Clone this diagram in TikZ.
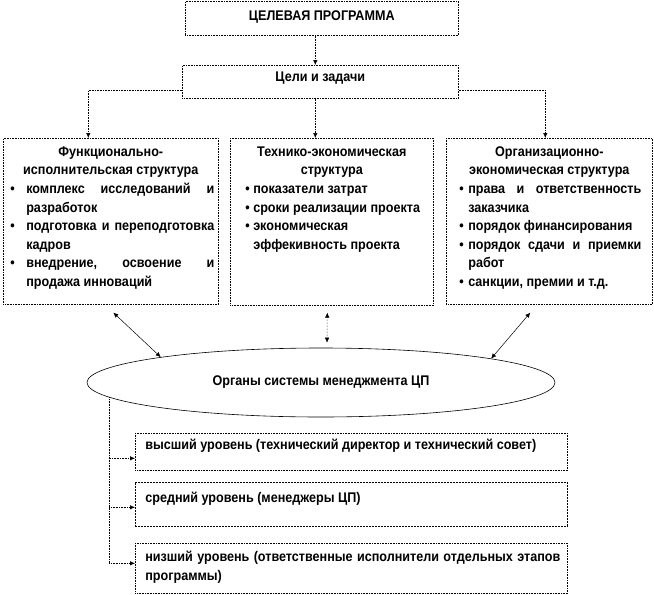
\documentclass[tikz,border=0pt]{standalone}
\usepackage{fontspec}
\setmainfont{Liberation Sans}[FakeStretch=0.9]
\usetikzlibrary{arrows.meta,shapes.geometric}
\newlength\hangw
\newcommand\bul[1]{\par\hangindent=\hangw\hangafter=1\noindent\makebox[\hangw][l]{\textbullet}#1}
\newcommand\bx[4]{\parbox[c][#2][t]{#1}{\fontsize{14}{18.6}\selectfont\bfseries
  \parindent=0pt\tolerance=10000\hyphenpenalty=10000\exhyphenpenalty=10000
  \vskip#3\relax\prevdepth=0pt\relax #4\par}}
\tikzset{
  box/.style={draw, densely dotted, line width=0.6pt, inner sep=0pt, anchor=north west},
  conn/.style={densely dotted, line width=0.6pt, -{Latex[length=5pt,width=4.5pt]}},
  dbl/.style={line width=0.5pt, {Latex[length=5pt,width=4.5pt]}-{Latex[length=5pt,width=4.5pt]}},
}
\begin{document}
\begin{tikzpicture}[x=1pt,y=-1pt]
\useasboundingbox (0,0) rectangle (654,595);

\node[box] (top) at (185,1) {\bx{273pt}{34pt}{0.4pt}{\centering ЦЕЛЕВАЯ ПРОГРАММА}};
\node[box] (goals) at (182,65) {\bx{276pt}{33pt}{-2.6pt}{\centering Цели и задачи}};

\node[box] (func) at (3,138) {\bx{215pt}{166pt}{-0.6pt}{%
  {\centering Функционально-\\исполнительская структура\par}
  \leftskip=7pt\rightskip=4pt\hangw=16pt
  \bul{комплекс~исследований~и\linebreak разработок}
  \bul{подготовка~и~переподготовка\linebreak кадров}
  \bul{внедрение,~освоение~и\linebreak продажа инноваций}}};

\node[box] (tech) at (230,138) {\bx{203pt}{167pt}{-0.6pt}{%
  {\centering Технико-экономическая\\структура\par}
  \leftskip=15pt\rightskip=6pt\hangw=8pt
  \bul{показатели затрат\hfill\null}
  \bul{сроки реализации проекта\hfill\null}
  \bul{экономическая\\эффекивность проекта\hfill\null}}};

\node[box] (org) at (446,138) {\bx{206pt}{166pt}{-0.6pt}{%
  {\centering Организационно-\\экономическая структура\par}
  \leftskip=13pt\rightskip=11pt\hangw=9pt
  \bul{права~и~ответственность\linebreak заказчика}
  \bul{порядок финансирования\hfill\null}
  \bul{порядок~сдачи~и~приемки\linebreak работ}
  \bul{санкции, премии и т.д.\hfill\null}}};

\node[draw, ellipse, line width=0.6pt, inner sep=0pt, minimum width=468pt, minimum height=69pt] (ell) at (321,382.5)
  {\fontsize{14}{18.6}\selectfont\bfseries\raisebox{2.5pt}{Органы системы менеджмента ЦП}};

\node[box] (low1) at (135,433) {\bx{432pt}{37pt}{-2.1pt}{\leftskip=10pt\rightskip=7pt
  высший уровень (технический директор и технический совет)\hfill\null}};
\node[box, dash pattern=on 2pt off 1pt] (low2) at (135,482) {\bx{432pt}{44pt}{1.9pt}{\leftskip=10pt\rightskip=7pt
  средний уровень (менеджеры ЦП)\hfill\null}};
\node[box] (low3) at (135,543) {\bx{432pt}{50pt}{-0.1pt}{\leftskip=10pt\rightskip=7pt
  низший~уровень~(ответственные~исполнители~отдельных~этапов\linebreak программы)}};

% connectors
\draw[conn] ([xshift=-6.5pt]top.south) -- ([xshift=-5pt]goals.north);
\draw[conn] ([yshift=-8.5pt]goals.west) -| ([xshift=-22.5pt]func.north);
\draw[conn] ([yshift=-8.5pt]goals.east) -| ([xshift=-4pt]org.north);
\draw[conn] ([xshift=-5pt]goals.south) -- ([xshift=-16.5pt]tech.north);

\draw[dbl] ([xshift=2.5pt,yshift=-8pt]func.south) -- (ell.171.5);
\draw[dbl] ([xshift=-19pt,yshift=-8pt]org.south) -- (ell.8.5);
\draw[dbl, densely dotted] ([xshift=-4.5pt,yshift=-7pt]tech.south) -- ([xshift=6pt,yshift=5pt]ell.north);

\coordinate (v0) at (ell.184.1);
\draw[conn] (v0) |- ([yshift=-6.5pt]low1.west);
\draw[conn] (v0) |- ([yshift=-3pt]low2.west);
\draw[conn] (v0) |- ([yshift=5pt]low3.west);
\end{tikzpicture}
\end{document}
